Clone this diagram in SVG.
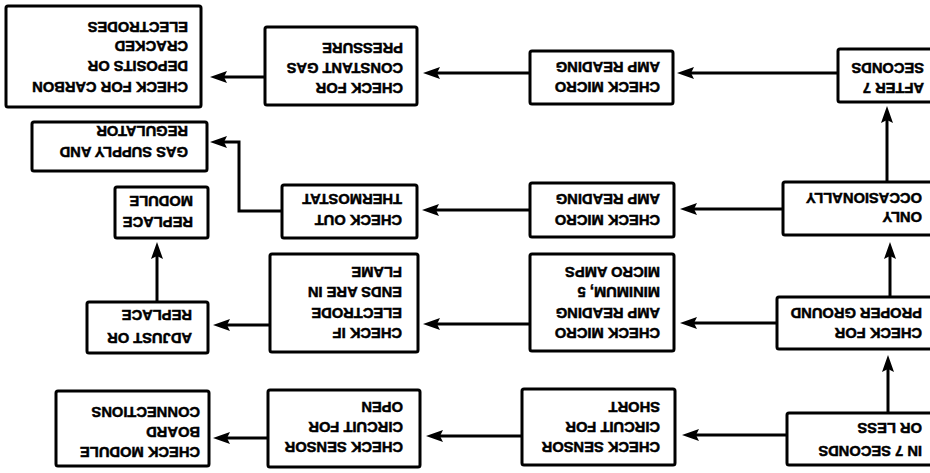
<svg xmlns="http://www.w3.org/2000/svg" width="930" height="473" viewBox="0 0 930 473">
<defs>
<style>
.box{fill:#fff;stroke:#000;stroke-width:3}
.t{font-family:"Liberation Sans",Arial,Helvetica,sans-serif;font-weight:bold;font-size:14.7px;fill:#000;stroke:#000;stroke-width:0.5}
.c{fill:none;stroke:#000;stroke-width:3}
</style>
<marker id="ah" markerWidth="17" markerHeight="13" refX="10" refY="6.5" orient="auto" markerUnits="userSpaceOnUse"><path d="M0,0.5 L17,6.5 L0,12.5 L3,6.5 z" fill="#000"/></marker>
</defs>
<rect width="930" height="473" fill="#fff"/>
<g transform="rotate(180 465 236.5)">
<g id="connectors" class="c" marker-end="url(#ah)">
<path d="M92,400 H246"/>
<path d="M400,400 H500"/>
<path d="M665,396 H713"/>
<path d="M147,264 H243"/>
<path d="M400,263 H501"/>
<path d="M648,262 H691 V331 H713"/>
<path d="M153,150 H243"/>
<path d="M400,149 H500"/>
<path d="M660,148 H710"/>
<path d="M773,171 V224"/>
<path d="M143,38 H241"/>
<path d="M408,37 H497"/>
<path d="M662,35 H710"/>
<path d="M42,60 V111"/>
<path d="M40,176 V224"/>
<path d="M43,291 V360"/>
</g>
<g id="n-in7"><rect class="box" x="-5" y="8" width="148" height="52" rx="2"/><text class="t" x="8" y="27.3">IN 7 SECONDS</text><text class="t" x="8" y="50.3">OR LESS</text></g>
<g id="n-short"><rect class="box" x="255" y="8" width="153" height="76" rx="2"/><text class="t" x="270" y="31.3">CHECK SENSOR</text><text class="t" x="270" y="51.3">CIRCUIT FOR</text><text class="t" x="270" y="71.3">SHORT</text></g>
<g id="n-open"><rect class="box" x="510" y="6" width="152" height="77" rx="2"/><text class="t" x="527" y="31.3">CHECK SENSOR</text><text class="t" x="527" y="51.3">CIRCUIT FOR</text><text class="t" x="527" y="71.3">OPEN</text></g>
<g id="n-board"><rect class="box" x="721" y="7" width="153" height="75" rx="2"/><text class="t" x="730" y="26.3">CHECK MODULE</text><text class="t" x="730" y="46.3">BOARD</text><text class="t" x="730" y="66.3">CONNECTIONS</text></g>
<g id="n-ground"><rect class="box" x="-5" y="124" width="158" height="52" rx="2"/><text class="t" x="8" y="145.3">CHECK FOR</text><text class="t" x="8" y="165.3">PROPER GROUND</text></g>
<g id="n-micro-min"><rect class="box" x="256" y="122" width="144" height="97" rx="2"/><text class="t" x="270" y="145">CHECK MICRO</text><text class="t" x="270" y="165.5">AMP READING</text><text class="t" x="270" y="186">MINIMUM, 5</text><text class="t" x="270" y="206.5">MICRO AMPS</text></g>
<g id="n-electrode"><rect class="box" x="512" y="121" width="148" height="98" rx="2"/><text class="t" x="528" y="145">CHECK IF</text><text class="t" x="528" y="165.5">ELECTRODE</text><text class="t" x="528" y="186">ENDS ARE IN</text><text class="t" x="528" y="206.5">FLAME</text></g>
<g id="n-adjust"><rect class="box" x="722" y="120" width="121" height="51" rx="2"/><text class="t" x="738" y="140.3">ADJUST OR</text><text class="t" x="738" y="163.3">REPLACE</text></g>
<g id="n-replace"><rect class="box" x="722" y="235" width="93" height="51" rx="2"/><text class="t" x="737" y="256.3">REPLACE</text><text class="t" x="737" y="277.3">MODULE</text></g>
<g id="n-only"><rect class="box" x="-5" y="238" width="152" height="53" rx="2"/><text class="t" x="8" y="261.3">ONLY</text><text class="t" x="8" y="280.3">OCCASIONALLY</text></g>
<g id="n-micro-mid"><rect class="box" x="256" y="236" width="144" height="54" rx="2"/><text class="t" x="270" y="258">CHECK MICRO</text><text class="t" x="270" y="279">AMP READING</text></g>
<g id="n-thermostat"><rect class="box" x="513" y="235" width="135" height="53" rx="2"/><text class="t" x="528" y="258">CHECK OUT</text><text class="t" x="528" y="279">THERMOSTAT</text></g>
<g id="n-gas"><rect class="box" x="723" y="302" width="175" height="49" rx="2"/><text class="t" x="742" y="326">GAS SUPPLY AND</text><text class="t" x="742" y="347">REGULATOR</text></g>
<g id="n-after"><rect class="box" x="-5" y="371" width="97" height="53" rx="2"/><text class="t" x="6" y="390.3">AFTER 7</text><text class="t" x="6" y="410.3">SECONDS</text></g>
<g id="n-micro-top"><rect class="box" x="257" y="369" width="143" height="53" rx="2"/><text class="t" x="270" y="391.3">CHECK MICRO</text><text class="t" x="270" y="411.3">AMP READING</text></g>
<g id="n-constgas"><rect class="box" x="513" y="368" width="152" height="78" rx="2"/><text class="t" x="527" y="390.3">CHECK FOR</text><text class="t" x="527" y="410.3">CONSTANT GAS</text><text class="t" x="527" y="430.3">PRESSURE</text></g>
<g id="n-carbon"><rect class="box" x="729" y="366" width="195" height="101" rx="2"/><text class="t" x="742" y="391.5">CHECK FOR CARBON</text><text class="t" x="742" y="412.5">DEPOSITS OR</text><text class="t" x="742" y="432">CRACKED</text><text class="t" x="742" y="451.5">ELECTRODES</text></g>
</g>
</svg>
